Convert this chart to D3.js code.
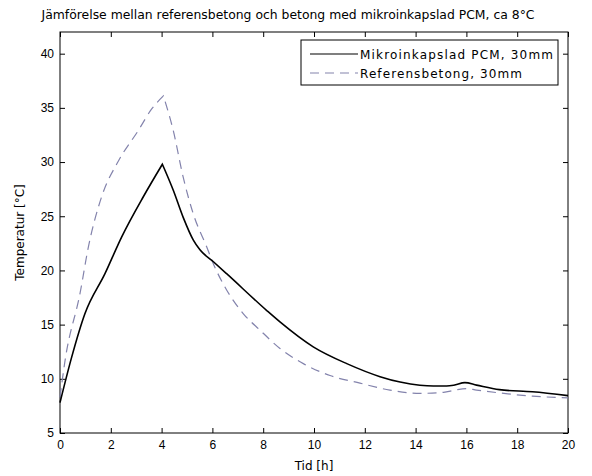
<!DOCTYPE html>
<html lang="sv">
<head>
<meta charset="utf-8">
<title>Jämförelse PCM</title>
<script src="https://d3js.org/d3.v7.min.js"></script>
<style>
  body { margin: 0; background: #fff; }
  svg { font-family: "DejaVu Sans", sans-serif; }
  .tick text { font-size: 12px; fill: #000; }
</style>
</head>
<body>
<svg id="chart" width="592" height="476"></svg>
<script>
const pcmTime = [0, 0.46, 0.98, 1.77, 2.43, 3.28, 4.03, 4.46, 4.85, 5.25, 5.51, 6.04, 6.56, 8.14, 8.66, 9.97, 11.29, 12.6, 13.39, 14.17, 14.7, 15.22, 15.5, 15.94, 16.4, 17.3, 18.6, 20];
const pcmTemp = [7.8, 12.0, 16.0, 19.7, 23.1, 26.8, 29.8, 27.4, 24.9, 22.8, 21.9, 20.8, 19.7, 16.3, 15.25, 12.95, 11.4, 10.2, 9.7, 9.4, 9.33, 9.33, 9.4, 9.65, 9.42, 9.0, 8.8, 8.45];

const refTime = [0, 0.2, 0.79, 1.12, 1.64, 2.3, 3.08, 3.61, 4.07, 4.46, 4.85, 5.25, 5.77, 6.04, 6.56, 7.22, 7.87, 8.66, 9.58, 10.63, 11.81, 12.99, 14.17, 15.1, 15.55, 16.0, 16.4, 17.3, 18.6, 20];
const refTemp = [8.3, 11.7, 17.9, 22.2, 26.8, 30.1, 32.9, 34.9, 36.1, 32.9, 28.6, 25.2, 22.2, 20.6, 18.2, 16.0, 14.5, 12.8, 11.4, 10.3, 9.6, 8.96, 8.66, 8.75, 8.96, 9.1, 8.96, 8.7, 8.4, 8.25];

const xTicks = [0, 2, 4, 6, 8, 10, 12, 14, 16, 18, 20];
const yTicks = [5, 10, 15, 20, 25, 30, 35, 40];
const seriesNames = ["Mikroinkapslad PCM, 30mm", "Referensbetong, 30mm"];

const margin = {left: 60, right: 24, top: 32, bottom: 43};
const W = 592, H = 476;
const svg = d3.select("#chart");

const x = d3.scaleLinear().domain([0, 20]).range([margin.left, W - margin.right]);
const y = d3.scaleLinear().domain([5, 42]).range([H - margin.bottom, margin.top]);

// box
svg.append("rect")
  .attr("x", x(0)).attr("y", y(42))
  .attr("width", x(20) - x(0)).attr("height", y(5) - y(42))
  .attr("fill", "#fff").attr("stroke", "#000").attr("stroke-width", 1);

// axes with inward ticks (matlab style)
const gx = svg.append("g").attr("transform", "translate(0," + y(5) + ")")
  .call(d3.axisBottom(x).tickValues(xTicks).tickSize(-5).tickPadding(7));
const gxTop = svg.append("g").attr("transform", "translate(0," + y(42) + ")")
  .call(d3.axisTop(x).tickValues(xTicks).tickSize(-5).tickFormat(""));
const gy = svg.append("g").attr("transform", "translate(" + x(0) + ",0)")
  .call(d3.axisLeft(y).tickValues(yTicks).tickSize(-5).tickPadding(6));
const gyR = svg.append("g").attr("transform", "translate(" + x(20) + ",0)")
  .call(d3.axisRight(y).tickValues(yTicks).tickSize(-5).tickFormat(""));
[gx, gxTop, gy, gyR].forEach(g => {
  g.select(".domain").remove();
  g.selectAll("line").attr("stroke", "#000");
});
gx.selectAll("text").attr("dy", "0.71em");

// lines: smooth each side of the peak separately so the peak stays sharp
const line = d3.line().x(d => x(d[0])).y(d => y(d[1])).curve(d3.curveMonotoneX);
function peakPath(ts, vs) {
  const pts = ts.map((t, i) => [t, vs[i]]);
  const k = d3.maxIndex(vs);
  return line(pts.slice(0, k + 1)) + line(pts.slice(k)).replace(/^M/, "L");
}

svg.append("path").attr("d", peakPath(refTime, refTemp))
  .attr("fill", "none").attr("stroke", "#8383ac").attr("stroke-width", 1.2)
  .attr("stroke-dasharray", "9,6");
svg.append("path").attr("d", peakPath(pcmTime, pcmTemp))
  .attr("fill", "none").attr("stroke", "#000").attr("stroke-width", 1.6);

// legend
const leg = svg.append("g");
leg.append("rect").attr("x", 301).attr("y", 40).attr("width", 257).attr("height", 45)
  .attr("fill", "#fff").attr("stroke", "#000");
const legStyles = [{c: "#000", w: 1.2, dash: null, len: 193}, {c: "#8383ac", w: 1.2, dash: "9,6", len: 162}];
seriesNames.forEach((n, i) => {
  const ly = 54 + i * 19;
  leg.append("line").attr("x1", 310).attr("x2", 358).attr("y1", ly).attr("y2", ly)
    .attr("stroke", legStyles[i].c).attr("stroke-width", legStyles[i].w)
    .attr("stroke-dasharray", legStyles[i].dash);
  leg.append("text").attr("x", 360).attr("y", ly + 4.5).attr("font-size", 12)
    .attr("textLength", legStyles[i].len).attr("lengthAdjust", "spacing").text(n);
});

// labels
svg.append("text").attr("x", 288).attr("y", 19).attr("text-anchor", "middle")
  .attr("font-size", 12.4).text("Jämförelse mellan referensbetong och betong med mikroinkapslad PCM, ca 8°C");
svg.append("text").attr("x", 314).attr("y", 470).attr("text-anchor", "middle")
  .attr("font-size", 12).text("Tid [h]");
svg.append("text").attr("transform", "translate(24," + ((y(5) + y(42)) / 2) + ") rotate(-90)")
  .attr("text-anchor", "middle").attr("font-size", 12).text("Temperatur [°C]");
</script>
</body>
</html>
